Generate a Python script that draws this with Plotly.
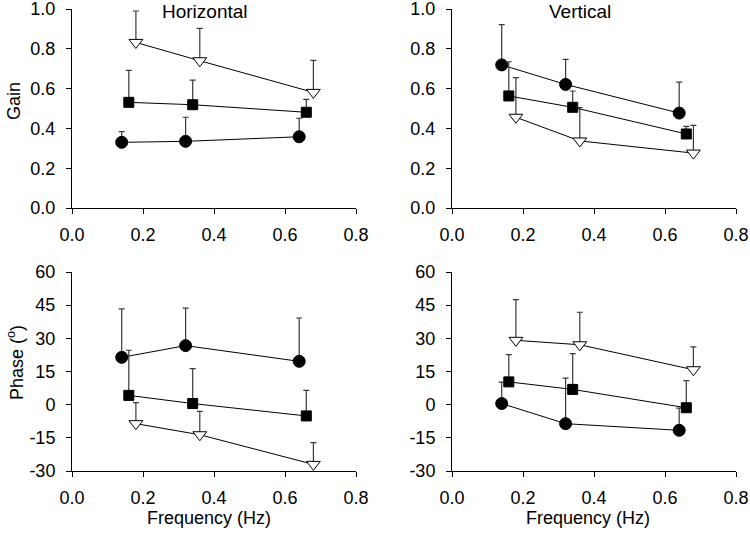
import plotly.graph_objects as go

# Frequencies (Hz) — offset per group in the original figure
freq_circle = [0.14, 0.32, 0.64]
freq_square = [0.16, 0.34, 0.66]
freq_tri = [0.18, 0.36, 0.68]

# Horizontal gain
h_gain_circle = [0.33, 0.335, 0.358]
h_gain_circle_err = [0.054, 0.121, 0.093]
h_gain_square = [0.531, 0.519, 0.481]
h_gain_square_err = [0.161, 0.124, 0.065]
h_gain_tri = [0.832, 0.74, 0.581]
h_gain_tri_err = [0.158, 0.163, 0.161]

# Vertical gain
v_gain_circle = [0.719, 0.621, 0.477]
v_gain_circle_err = [0.202, 0.126, 0.156]
v_gain_square = [0.563, 0.506, 0.372]
v_gain_square_err = [0.172, 0.082, 0.038]
v_gain_tri = [0.456, 0.337, 0.276]
v_gain_tri_err = [0.199, 0.168, 0.139]

# Horizontal phase (deg)
h_phase_circle = [21.4, 26.7, 19.6]
h_phase_circle_err = [21.9, 17.0, 19.6]
h_phase_square = [4.2, 0.5, -5.1]
h_phase_square_err = [20.4, 15.8, 11.6]
h_phase_tri = [-8.6, -13.6, -27.0]
h_phase_tri_err = [9.5, 10.6, 9.8]

# Vertical phase (deg)
v_phase_circle = [0.5, -8.6, -11.6]
v_phase_circle_err = [9.7, 20.6, 10.0]
v_phase_square = [10.3, 6.9, -1.4]
v_phase_square_err = [12.3, 16.2, 12.3]
v_phase_tri = [29.1, 27.1, 15.8]
v_phase_tri_err = [18.4, 14.7, 10.3]

FONT = "Arial, Liberation Sans, sans-serif"
ERRC = "#3a3a3a"

fig = go.Figure()


def add_group(x, y, err, symbol, size, fill, xa, ya):
    fig.add_trace(go.Scatter(
        x=x, y=y, mode="lines+markers", xaxis=xa, yaxis=ya,
        line=dict(color="black", width=1),
        marker=dict(symbol=symbol, size=size, color=fill,
                    line=dict(color="black", width=1)),
        error_y=dict(type="data", symmetric=False, array=err,
                     arrayminus=[0] * len(err), color=ERRC,
                     thickness=1.2, width=3),
        cliponaxis=False, showlegend=False))


panels = [
    ("x", "y", h_gain_circle, h_gain_circle_err, h_gain_square, h_gain_square_err, h_gain_tri, h_gain_tri_err),
    ("x2", "y2", v_gain_circle, v_gain_circle_err, v_gain_square, v_gain_square_err, v_gain_tri, v_gain_tri_err),
    ("x3", "y3", h_phase_circle, h_phase_circle_err, h_phase_square, h_phase_square_err, h_phase_tri, h_phase_tri_err),
    ("x4", "y4", v_phase_circle, v_phase_circle_err, v_phase_square, v_phase_square_err, v_phase_tri, v_phase_tri_err),
]

for xa, ya, c, ce, s, se, t, te in panels:
    add_group(freq_tri, t, te, "triangle-down", 12, "white", xa, ya)
    add_group(freq_circle, c, ce, "circle", 12, "black", xa, ya)
    add_group(freq_square, s, se, "square", 10, "black", xa, ya)

W, H = 750, 533
xl = [72 / W, 356 / W]
xr = [452 / W, 736 / W]
yt = [1 - 208 / H, 1 - 9 / H]
yb = [1 - 471 / H, 1 - 272 / H]

axis_common = dict(showline=True, linecolor="black", linewidth=1,
                   ticks="outside", ticklen=5, tickcolor="black",
                   tickwidth=1, showgrid=False, zeroline=False,
                   automargin=False, ticklabeloverflow="allow",
                   tickfont=dict(family=FONT, size=18, color="black"))

xticks = [0.0, 0.2, 0.4, 0.6, 0.8]
gain_ticks = [0.0, 0.2, 0.4, 0.6, 0.8, 1.0]
phase_ticks = [-30, -15, 0, 15, 30, 45, 60]

def xax(domain, anchor):
    return dict(domain=domain, anchor=anchor, range=[0, 0.8],
                tickvals=xticks, ticktext=[f"{v:.1f}" for v in xticks],
                ticklabelstandoff=5, **axis_common)

def gax(domain, anchor):
    return dict(domain=domain, anchor=anchor, range=[0, 1.0],
                tickvals=gain_ticks, ticktext=[f"{v:.1f}" for v in gain_ticks],
                ticklabelstandoff=7, **axis_common)

def pax(domain, anchor):
    return dict(domain=domain, anchor=anchor, range=[-30, 60],
                tickvals=phase_ticks, ticktext=[str(v) for v in phase_ticks],
                ticklabelstandoff=7, **axis_common)

fig.update_layout(
    template="none",
    width=W, height=H,
    margin=dict(l=0, r=0, t=0, b=0, pad=0),
    paper_bgcolor="white", plot_bgcolor="white",
    font=dict(family=FONT, size=18, color="black"),
    xaxis=xax(xl, "y"), yaxis=gax(yt, "x"),
    xaxis2=xax(xr, "y2"), yaxis2=gax(yt, "x2"),
    xaxis3=xax(xl, "y3"), yaxis3=pax(yb, "x3"),
    xaxis4=xax(xr, "y4"), yaxis4=pax(yb, "x4"),
)

def ann(text, px, py, angle=0, size=18):
    fig.add_annotation(text=text, x=px / W, y=1 - py / H, xref="paper",
                       yref="paper", showarrow=False, textangle=angle,
                       xanchor="center", yanchor="middle",
                       font=dict(family=FONT, size=size, color="black"))

ann("Horizontal", 205, 11, size=19)
ann("Vertical", 580, 11, size=19)
ann("Gain", 14, 101, angle=-90)
ann("Phase (<sup>o</sup>)", 15, 363, angle=-90)
ann("Frequency (Hz)", 209, 518)
ann("Frequency (Hz)", 588, 518)

fig.write_html(
    "out.html",
    config={"displayModeBar": False},
    post_script="document.body.style.margin='0';document.body.style.overflow='hidden';",
)
